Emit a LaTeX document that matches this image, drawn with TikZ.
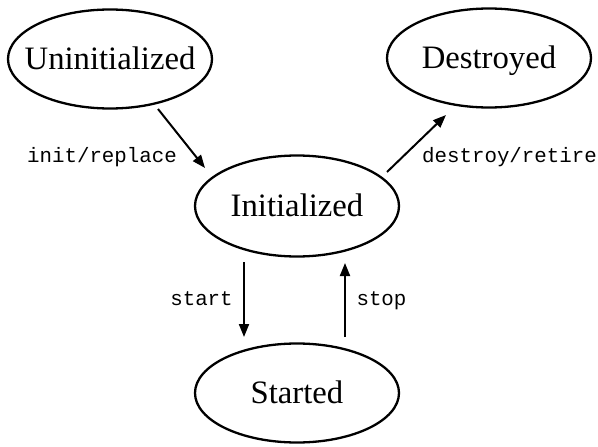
\documentclass[tikz,border=0pt]{standalone}
\usepackage{fontspec}
\setmainfont{Liberation Serif}
\newfontfamily\codefont{Liberation Mono}
\usetikzlibrary{shapes.geometric,arrows.meta,calc}

% state name, boxed at zero width so the ellipse keeps its set size
\newcommand{\statename}[1]{\makebox[0pt]{#1}}

\tikzset{
  state/.style={ellipse, draw, line width=2.3pt, inner sep=0pt,
    minimum width=204pt, minimum height=99pt,
    font=\fontsize{32.7}{36}\selectfont, text height=21pt, text depth=0pt},
  trans/.style={line width=2pt, -{Triangle[length=13pt,width=10pt]}},
  evt/.style={anchor=base, inner sep=0pt, font=\codefont\fontsize{20.8}{24}\selectfont}
}

\begin{document}
\begin{tikzpicture}[x=1pt,y=-1pt]
  \useasboundingbox (0,0) rectangle (598,447);

  % states
  \node[state] (U) at (110,59) {\statename{Uninitialized}};
  \node[state] (D) at (489,58) {\statename{Destroyed}};
  \node[state, minimum height=101pt] (I) at (297,206) {\statename{Initialized}};
  \node[state] (S) at (297,393) {\statename{Started}};

  % transitions
  \draw[trans] ($(U.center)+(48,50)$) -- ($(I.center)+(-92,-38)$);
  \draw[trans] ($(I.center)+(90,-34)$) -- ($(D.center)+(-43,57)$);
  \draw[trans] ($(I.center)+(-53,56)$) -- ($(S.center)+(-53,-56)$);
  \draw[trans] ($(S.center)+(48,-56)$) -- ($(I.center)+(48,57)$);

  % transition labels
  \node[evt] (l1) at (102,162) {init/replace};
  \node[evt] (l2) at (509.5,162) {destroy/retire};
  \node[evt] (l3) at (201.5,305) {start};
  \node[evt] (l4) at (381.5,305) {stop};
\end{tikzpicture}
\end{document}
